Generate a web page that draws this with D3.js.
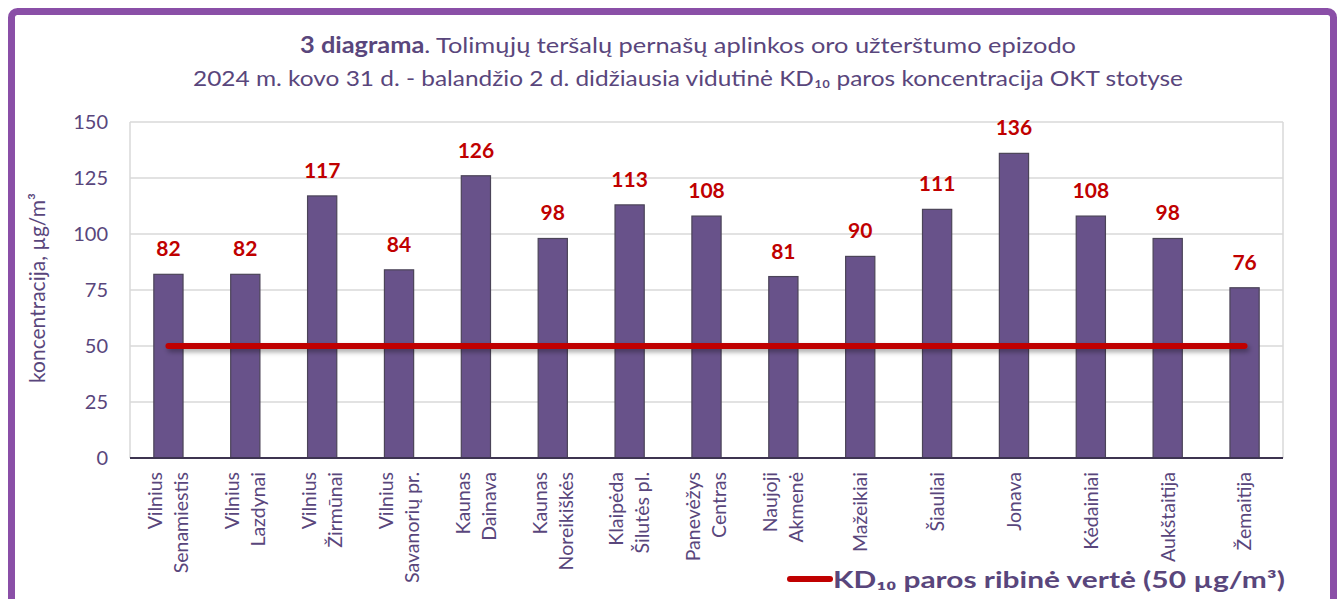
<!DOCTYPE html>
<html>
<head>
<meta charset="utf-8">
<script src="https://cdn.jsdelivr.net/npm/d3@7"></script>
<style>
  body { margin: 0; background: #fff; }
  svg { display: block; font-family: Lato, "Open Sans", sans-serif; }
</style>
</head>
<body>
<div id="chart"></div>
<script>
const stations = [
  ["Vilnius", "Senamiestis"], ["Vilnius", "Lazdynai"], ["Vilnius", "Žirmūnai"],
  ["Vilnius", "Savanorių pr."], ["Kaunas", "Dainava"], ["Kaunas", "Noreikiškės"],
  ["Klaipėda", "Šilutės pl."], ["Panevėžys", "Centras"], ["Naujoji", "Akmenė"],
  ["Mažeikiai"], ["Šiauliai"], ["Jonava"], ["Kėdainiai"], ["Aukštaitija"], ["Žemaitija"]
];
const concentration = [82, 82, 117, 84, 126, 98, 113, 108, 81, 90, 111, 136, 108, 98, 76];
const limitValue = 50;
const yTicks = [0, 25, 50, 75, 100, 125, 150];

const W = 1340, H = 599;
const textColor = "#59467c";
const barColor = "#68528a";
const red = "#c00000";

const svg = d3.select("#chart").append("svg").attr("width", W).attr("height", H);

const defs = svg.append("defs");
const f = defs.append("filter").attr("id", "shadow").attr("filterUnits", "userSpaceOnUse")
  .attr("x", 0).attr("y", 0).attr("width", W).attr("height", H);
f.append("feDropShadow").attr("dx", 2).attr("dy", 3).attr("stdDeviation", 2.5)
  .attr("flood-color", "#000").attr("flood-opacity", 0.35);

// frame
svg.append("rect")
  .attr("x", 11.5).attr("y", 11.5).attr("width", 1322).attr("height", 620)
  .attr("rx", 6).attr("fill", "none").attr("stroke", "#8a4fa7").attr("stroke-width", 7);

const plot = { left: 130, right: 1283, top: 122, bottom: 458 };

const x = d3.scaleBand().domain(stations.map((d, i) => i)).range([plot.left, plot.right]).paddingInner(0.62).paddingOuter(0.31);
const y = d3.scaleLinear().domain([0, 150]).range([plot.bottom, plot.top]);

// title
const title = svg.append("text").attr("fill", textColor).style("font-size", "22px");
const t1 = title.append("tspan").attr("x", 300).attr("y", 53).attr("textLength", 776).attr("lengthAdjust", "spacingAndGlyphs");
t1.append("tspan").attr("font-weight", "bold").text("3 diagrama");
t1.append("tspan").text(". Tolimųjų teršalų pernašų aplinkos oro užterštumo epizodo");
title.append("tspan").attr("x", 193).attr("y", 86).attr("textLength", 990).attr("lengthAdjust", "spacingAndGlyphs")
  .text("2024 m. kovo 31 d. - balandžio 2 d. didžiausia vidutinė KD₁₀ paros koncentracija OKT stotyse");

// grid
svg.append("g").selectAll("line").data(yTicks.filter(d => d > 0)).join("line")
  .attr("x1", plot.left).attr("x2", plot.right)
  .attr("y1", d => y(d)).attr("y2", d => y(d))
  .attr("stroke", "#d9d9d9").attr("stroke-width", 1.5);
svg.append("g").selectAll("line").data([plot.left, plot.right]).join("line")
  .attr("x1", d => d).attr("x2", d => d).attr("y1", plot.top).attr("y2", plot.bottom)
  .attr("stroke", "#d9d9d9").attr("stroke-width", 1.5);

// y axis
const yAxis = svg.append("g").attr("transform", `translate(${plot.left},0)`)
  .call(d3.axisLeft(y).tickValues(yTicks).tickSize(0).tickPadding(22));
yAxis.select(".domain").remove();
yAxis.selectAll("text").attr("fill", textColor).style("font-size", "20px").style("font-family", "Lato, sans-serif");

svg.append("text")
  .attr("transform", `translate(45,${(plot.top + plot.bottom) / 2 - 2}) rotate(-90)`)
  .attr("text-anchor", "middle").attr("fill", textColor).style("font-size", "21px")
  .text("koncentracija, µg/m³");

// bars
svg.append("g").selectAll("rect").data(concentration).join("rect")
  .attr("x", (d, i) => x(i)).attr("width", x.bandwidth())
  .attr("y", d => y(d)).attr("height", d => y(0) - y(d))
  .attr("fill", barColor).attr("stroke", "#4b4458").attr("stroke-width", 1.2);

// value labels
svg.append("g").selectAll("text").data(concentration).join("text")
  .attr("x", (d, i) => x(i) + x.bandwidth() / 2).attr("y", d => y(d) - 18)
  .attr("text-anchor", "middle").attr("fill", red).attr("font-weight", "bold")
  .style("font-size", "21px").text(d => d);

// x axis line
svg.append("line").attr("x1", plot.left).attr("x2", plot.right)
  .attr("y1", plot.bottom).attr("y2", plot.bottom)
  .attr("stroke", "#3d3450").attr("stroke-width", 2);

// x labels
const xl = svg.append("g").selectAll("text").data(stations).join("text")
  .attr("transform", (d, i) => `translate(${x(i) + x.bandwidth() / 2},472) rotate(-90)`)
  .attr("text-anchor", "end").attr("fill", textColor).style("font-size", "19.5px");
xl.each(function(d) {
  const n = d.length;
  d.forEach((line, k) => {
    d3.select(this).append("tspan").attr("x", 0)
      .attr("y", (k - (n - 1) / 2) * 26)
      .attr("dy", "0.35em").text(line);
  });
});

// limit line
svg.append("line")
  .attr("x1", x(0) + x.bandwidth() / 2).attr("x2", x(stations.length - 1) + x.bandwidth() / 2)
  .attr("y1", y(limitValue)).attr("y2", y(limitValue))
  .attr("stroke", red).attr("stroke-width", 6).attr("stroke-linecap", "round")
  .attr("filter", "url(#shadow)");

// legend
svg.append("line").attr("x1", 790).attr("x2", 830).attr("y1", 579).attr("y2", 579)
  .attr("stroke", red).attr("stroke-width", 6).attr("stroke-linecap", "round");
svg.append("text").attr("x", 833).attr("y", 588).attr("fill", textColor)
  .attr("font-weight", "bold").style("font-size", "22px")
  .attr("textLength", 452).attr("lengthAdjust", "spacingAndGlyphs")
  .text("KD₁₀ paros ribinė vertė (50 µg/m³)");
</script>
</body>
</html>
